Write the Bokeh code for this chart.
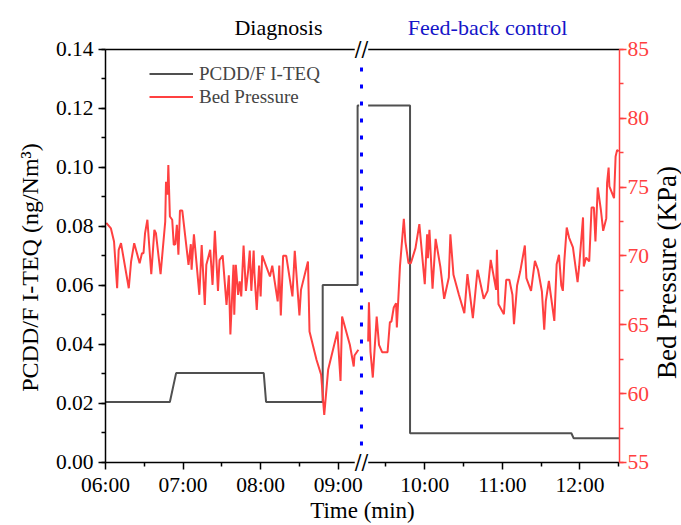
import math
from bokeh.plotting import figure
from bokeh.models import (Range1d, LinearAxis, SingleIntervalTicker, FixedTicker,
                          NumeralTickFormatter, Legend, LegendItem, Label)
from bokeh.embed import file_html
from bokeh.resources import INLINE

# ---------------- data (clock time in decimal hours) ----------------
# PCDD/F I-TEQ (ng/Nm3), diagnosis period (left of the axis break)
pcdd_t_left = [6.00, 6.83, 6.91, 8.04, 8.07, 8.80, 8.80, 9.25, 9.25, 9.27]
pcdd_v_left = [0.0205, 0.0205, 0.0303, 0.0303, 0.0205, 0.0205, 0.0602, 0.0602, 0.121, 0.121]
# PCDD/F I-TEQ, feed-back control period (right of the axis break)
pcdd_t_right = [9.27, 9.81, 9.81, 11.89, 11.92, 12.51]
pcdd_v_right = [0.121, 0.121, 0.0099, 0.0099, 0.0082, 0.0082]

# Bed pressure (KPa), diagnosis period
bp_t_left = [6.01, 6.07, 6.11, 6.15, 6.17, 6.20, 6.30, 6.33, 6.37, 6.44, 6.47, 6.49, 6.51,
             6.54, 6.59, 6.63, 6.65, 6.71, 6.77, 6.78, 6.80, 6.81, 6.83, 6.86, 6.88, 6.90,
             6.92, 6.94, 6.96, 6.99, 7.07, 7.10, 7.11, 7.14, 7.21, 7.24, 7.28, 7.30, 7.35,
             7.38, 7.41, 7.45, 7.47, 7.51, 7.56, 7.59, 7.61, 7.65, 7.66, 7.68, 7.71, 7.73,
             7.75, 7.78, 7.81, 7.84, 7.86, 7.88, 7.91, 7.92, 7.95, 7.98, 8.00, 8.02, 8.12,
             8.15, 8.22, 8.24, 8.26, 8.29, 8.33, 8.41, 8.44, 8.50, 8.52, 8.61, 8.63, 8.72,
             8.78, 8.82, 8.87, 8.99, 9.03, 9.05, 9.15, 9.20, 9.21, 9.26]
bp_p_left = [72.4, 72.0, 71.05, 67.66, 70.45, 70.93, 67.66, 69.6, 70.93, 69.48, 70.2, 70.2, 71.66,
             72.63, 68.68, 71.9, 71.66, 68.68, 72.5, 75.4, 74.45, 76.6, 72.87, 72.63, 70.8, 70.86,
             72.27, 70.09, 73.3, 73.3, 69.36, 70.86, 69.0, 71.58, 67.18, 70.8, 66.45, 69.36, 70.45,
             67.9, 71.83, 67.47, 69.7, 70.04, 66.45, 68.6, 64.3, 69.36, 65.73, 69.36, 67.18, 68.15,
             67.06, 70.76, 67.47, 69.0, 70.4, 67.47, 70.4, 68.75, 66.09, 69.3, 67.06, 70.04, 68.51,
             69.3, 66.7, 69.3, 65.68, 70.01, 70.01, 67.06, 70.38, 65.68, 67.54, 69.6, 64.52, 62.46,
             61.37, 58.46, 61.73, 64.52, 60.93, 65.6, 63.55, 61.97, 62.77, 63.19]
# Bed pressure, feed-back control period
bp_t_right = [9.27, 9.28, 9.30, 9.33, 9.38, 9.41, 9.45, 9.52, 9.55, 9.57, 9.60, 9.63, 9.64,
              9.68, 9.73, 9.75, 9.79, 9.82, 9.88, 9.93, 10.00, 10.03, 10.04, 10.06, 10.10,
              10.14, 10.20, 10.25, 10.31, 10.33, 10.37, 10.44, 10.51, 10.55, 10.62, 10.68,
              10.76, 10.81, 10.85, 10.92, 10.93, 10.95, 11.02, 11.05, 11.09, 11.13, 11.15,
              11.19, 11.23, 11.29, 11.31, 11.37, 11.42, 11.46, 11.51, 11.54, 11.56, 11.60,
              11.63, 11.67, 11.70, 11.73, 11.76, 11.78, 11.80, 11.83, 11.86, 11.91, 11.97,
              11.99, 12.04, 12.05, 12.08, 12.12, 12.15, 12.18, 12.20, 12.23, 12.27, 12.30,
              12.34, 12.35, 12.37, 12.38, 12.44, 12.46, 12.48, 12.50]
bp_p_right = [63.79, 66.64, 63.06, 61.17, 65.6, 63.55, 63.01, 63.01, 65.19, 65.24, 66.26, 66.57, 64.81,
              69.24, 72.7, 71.05, 69.48, 69.48, 70.57, 72.31, 67.95, 71.58, 69.84, 71.9, 67.62,
              71.25, 69.24, 66.89, 68.44, 71.58, 68.63, 67.18, 65.85, 68.68, 65.48, 69.0,
              66.89, 67.47, 69.72, 67.54, 70.45, 66.5, 65.77, 68.27, 68.27, 67.18, 65.05,
              67.86, 68.87, 70.76, 68.39, 67.47, 69.65, 69.0, 67.42, 64.64, 66.7, 68.2,
              66.94, 65.29, 69.4, 70.09, 67.86, 67.47, 69.72, 72.07, 71.34, 70.62, 68.1,
              69.24, 72.8, 69.24, 69.89, 69.6, 73.52, 73.52, 71.05, 74.98, 73.36, 71.83,
              72.75, 75.29, 76.43, 75.05, 74.2, 77.23, 77.71, 77.6]

tick_hours = [6, 7, 8, 9, 10, 11, 12]
tick_labels = ["06:00", "07:00", "08:00", "09:00", "10:00", "11:00", "12:00"]
minor_hours = [6.5, 7.5, 8.5, 9.5, 10.5, 11.5, 12.5]

# ---------------- broken time axis ----------------
T0 = 6.0            # 06:00 at the left end of the axis
SHIFT = 0.116       # extra room taken by the axis break (hours)
T_BREAK = 9.27      # clock time at which the axis is broken
BREAK_X = 3.30      # display position of the break
X_END = 6.6263      # display position of the right end of the axis (12:30)


def disp_side(t, right):
    return round(t - T0 + (SHIFT if right else 0.0), 4)


nan = float("nan")
pcdd_x = [disp_side(t, False) for t in pcdd_t_left] + [nan] + [disp_side(t, True) for t in pcdd_t_right]
pcdd_y = pcdd_v_left + [nan] + pcdd_v_right
bp_x = [disp_side(t, False) for t in bp_t_left] + [nan] + [disp_side(t, True) for t in bp_t_right]
bp_y = bp_p_left + [nan] + bp_p_right

major_pos = [disp_side(h, h > T_BREAK) for h in tick_hours]
minor_pos = [disp_side(h, h > T_BREAK) for h in minor_hours]

FONT = "Liberation Serif"
RED = "#ff4040"
BLACK_LINE = "#505050"
BLUE = "#1515c8"
TICK_FS = "21.5px"

# the frame covers the whole canvas; axes are drawn at fixed locations inside it
p = figure(width=681, height=525, output_backend="svg", toolbar_location=None,
           x_range=Range1d(-1.35362, 7.42555), y_range=Range1d(-0.021356, 0.156610),
           min_border_left=0, min_border_right=0, min_border_top=0, min_border_bottom=0,
           outline_line_color=None, background_fill_color="white", border_fill_color="white")
p.title.visible = False
p.grid.visible = False
p.extra_y_ranges = {"bp": Range1d(50.4237, 88.5593)}

r_pcdd = p.line(pcdd_x, pcdd_y, line_color=BLACK_LINE, line_width=2)
r_bp = p.line(bp_x, bp_y, line_color=RED, line_width=2, y_range_name="bp")


def style_axis(ax, color):
    ax.axis_line_color = color
    ax.axis_line_width = 1.5
    ax.major_tick_line_color = color
    ax.minor_tick_line_color = color
    ax.major_tick_line_width = 1.5
    ax.minor_tick_line_width = 1.5
    ax.major_tick_out = 7
    ax.major_tick_in = 0
    ax.minor_tick_out = 4
    ax.minor_tick_in = 0
    ax.major_label_text_font = FONT
    ax.major_label_text_font_size = TICK_FS
    ax.major_label_text_color = color


# bottom (time) axis
xa = p.xaxis[0]
style_axis(xa, "black")
xa.fixed_location = 0.0
xa.bounds = (0.0, X_END)
xa.ticker = FixedTicker(ticks=major_pos, minor_ticks=minor_pos)
xa.major_label_overrides = {pos: lab for pos, lab in zip(major_pos, tick_labels)}
xa.major_label_standoff = 4

# left axis
ya = p.yaxis[0]
style_axis(ya, "black")
ya.fixed_location = 0.0
ya.bounds = (0.0, 0.14)
ya.ticker = SingleIntervalTicker(interval=0.02, num_minor_ticks=2)
ya.formatter = NumeralTickFormatter(format="0.00")
ya.major_label_standoff = 5

# right axis (bed pressure)
ra = LinearAxis(y_range_name="bp", ticker=SingleIntervalTicker(interval=5, num_minor_ticks=2))
style_axis(ra, RED)
ra.fixed_location = X_END
ra.bounds = (55, 85)
ra.major_label_standoff = 1
p.add_layout(ra, "right")

# top frame line
ta = LinearAxis(ticker=FixedTicker(ticks=[]), axis_line_color="black", axis_line_width=1.5,
                major_tick_line_color=None, minor_tick_line_color=None)
ta.fixed_location = 0.14
ta.bounds = (0.0, X_END)
p.add_layout(ta, "above")

# dotted divider between the two periods
p.segment(x0=[BREAK_X], y0=[0.0], x1=[BREAK_X], y1=[0.14], line_color="#0000ff",
          line_dash="4 13", line_width=3)

# legend
legend = Legend(items=[LegendItem(label="PCDD/F I-TEQ", renderers=[r_pcdd]),
                       LegendItem(label="Bed Pressure", renderers=[r_bp])],
                location=(149, 417), border_line_color=None, background_fill_alpha=0,
                label_text_font=FONT, label_text_font_size="19px",
                glyph_width=44, glyph_height=23, label_height=23, label_standoff=6,
                spacing=-2, padding=0, margin=0)
p.add_layout(legend)

# axis-break marks
for yb in (0.0, 0.14):
    p.add_layout(Label(x=BREAK_X, y=yb, text="//", text_align="center", text_baseline="middle",
                       text_font="DejaVu Serif", text_font_size="20px", text_color="black",
                       background_fill_color="white"))

# axis titles
p.add_layout(Label(x=-0.967, y=0.0661, text="PCDD/F I-TEQ (ng/Nm³)", angle=math.pi / 2,
                   text_align="center", text_baseline="middle", text_font=FONT,
                   text_font_size="24px", text_color="black"))
p.add_layout(Label(x=7.245, y=0.0644, text="Bed Pressure (KPa)", angle=math.pi / 2,
                   text_align="center", text_baseline="middle", text_font=FONT,
                   text_font_size="27px", text_color="black"))
p.add_layout(Label(x=3.313, y=-0.01627, text="Time (min)", text_align="center",
                   text_baseline="alphabetic", text_font=FONT, text_font_size="23px",
                   text_color="black"))

# period titles
p.add_layout(Label(x=2.230, y=0.14746, text="Diagnosis", text_align="center",
                   text_baseline="alphabetic", text_font=FONT, text_font_size="22px",
                   text_color="black"))
p.add_layout(Label(x=4.925, y=0.14746, text="Feed-back control", text_align="center",
                   text_baseline="alphabetic", text_font=FONT, text_font_size="22px",
                   text_color=BLUE))

open("out.html", "w").write(file_html(p, INLINE))
